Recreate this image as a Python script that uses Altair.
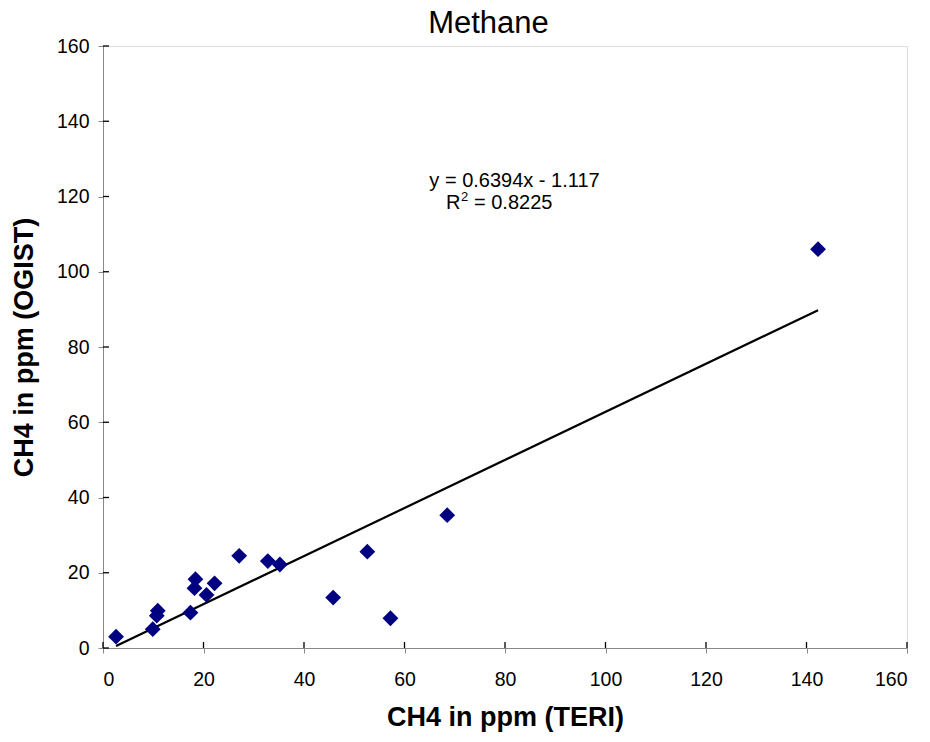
import altair as alt
import pandas as pd

teri = [2.6, 9.9, 10.7, 10.9, 17.4, 18.2, 18.4, 20.6, 22.2, 27.1, 32.8, 35.2, 45.8, 52.6, 57.2, 68.5, 142.3]
ogist = [3.0, 5.0, 8.6, 9.9, 9.4, 15.9, 18.3, 14.1, 17.2, 24.5, 23.1, 22.2, 13.4, 25.6, 7.9, 35.3, 106.0]
tick_values = [0, 20, 40, 60, 80, 100, 120, 140, 160]
title = "Methane"
equation = "y = 0.6394x - 1.117"
r_label = "R"
r_sup = "2"
r_value = "= 0.8225"

df = pd.DataFrame({"teri": teri, "ogist": ogist})
ticks = pd.DataFrame({"t": tick_values})

W, H = 804, 602
FONT = "Liberation Sans"

xscale = alt.Scale(domain=[0, 160], nice=False, zero=True)
yscale = alt.Scale(domain=[0, 160], nice=False, zero=True)

x_axis = alt.Axis(title="CH4 in ppm (TERI)", values=tick_values, grid=False,
                  tickSize=5, labelPadding=17, titlePadding=16,
                  labelFontSize=19.5, titleFontSize=27, titleFontWeight="bold")
y_axis = alt.Axis(title="CH4 in ppm (OGIST)", values=tick_values, grid=False,
                  tickSize=5, labelPadding=9, titlePadding=18,
                  labelFontSize=19.5, titleFontSize=27, titleFontWeight="bold")

points = alt.Chart(df).mark_point(shape="diamond", filled=True, size=250,
                                  color="#000080", opacity=1).encode(
    x=alt.X("teri:Q", scale=xscale, axis=x_axis),
    y=alt.Y("ogist:Q", scale=yscale, axis=y_axis),
)

trend = alt.Chart(df).transform_regression("teri", "ogist").mark_line(
    color="black", strokeWidth=2.2).encode(
    x=alt.X("teri:Q", scale=xscale),
    y=alt.Y("ogist:Q", scale=yscale),
)

yticks_in = alt.Chart(ticks).mark_rule(color="black", strokeWidth=1.3).encode(
    y=alt.Y("t:Q", scale=yscale),
    x=alt.value(0), x2=alt.value(6),
)
xticks_in = alt.Chart(ticks).mark_rule(color="black", strokeWidth=1.3).encode(
    x=alt.X("t:Q", scale=xscale),
    y=alt.value(H - 6), y2=alt.value(H),
)

def txt(s, size, align, x, y):
    return alt.Chart(pd.DataFrame({"s": [s]})).mark_text(
        fontSize=size, font=FONT, align=align, baseline="alphabetic", color="black").encode(
        text="s:N", x=alt.value(x), y=alt.value(y))

title_text = txt(title, 31, "center", 385.5, -13)
eq_text = txt(equation, 20, "center", 411.5, 141)
r_text = txt(r_label, 20, "left", 343, 163)
sup_text = txt(r_sup, 13, "left", 358, 155)
val_text = txt(r_value, 20, "left", 371, 163)

chart = alt.layer(trend, points, yticks_in, xticks_in, title_text, eq_text,
                  r_text, sup_text, val_text).properties(
    width=W, height=H,
    autosize=alt.AutoSizeParams(type="none"),
    padding={"left": 103, "top": 46, "right": 23, "bottom": 94},
).configure_view(stroke="#808080", strokeWidth=1.5).configure_axis(
    domainColor="black", domainWidth=1.6, tickColor="black", tickWidth=1.3,
    labelColor="black", titleColor="black", labelFont=FONT, titleFont=FONT,
).configure(background="white")

chart.save("out.html", embed_options={"renderer": "svg", "actions": False})
